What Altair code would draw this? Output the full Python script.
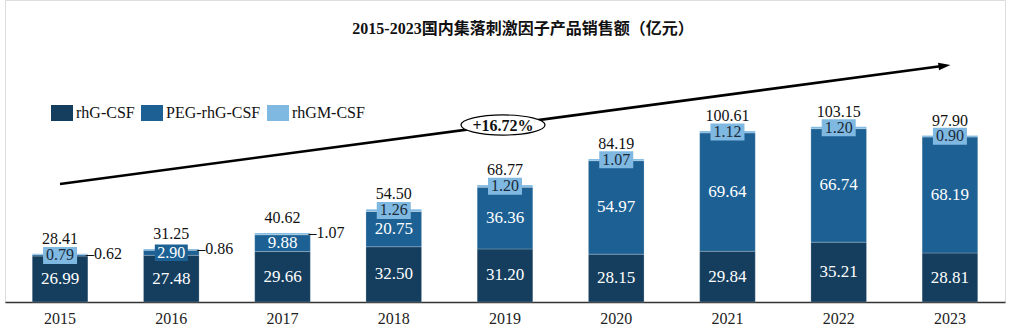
import altair as alt
import pandas as pd

years = ["2015", "2016", "2017", "2018", "2019", "2020", "2021", "2022", "2023"]
rhg = [26.99, 27.48, 29.66, 32.50, 31.20, 28.15, 29.84, 35.21, 28.81]
peg = [0.79, 2.90, 9.88, 20.75, 36.36, 54.97, 69.64, 66.74, 68.19]
rhgm = [0.62, 0.86, 1.07, 1.26, 1.20, 1.07, 1.12, 1.20, 0.90]
totals = [28.41, 31.25, 40.62, 54.50, 68.77, 84.19, 100.61, 103.15, 97.90]
series = ["rhG-CSF", "PEG-rhG-CSF", "rhGM-CSF"]
colors = ["#153e5e", "#1d6194", "#7fb8e0"]
title_text = "2015-2023国内集落刺激因子产品销售额（亿元）"
cagr_text = "+16.72%"

SERIF = "Liberation Serif"
TITLE_FONT = "Liberation Serif, Noto Sans CJK SC"

rows = []
for i, y in enumerate(years):
    start = 0.0
    for s, vals in zip(series, [rhg, peg, rhgm]):
        v = vals[i]
        rows.append({"year": y, "series": s, "value": v, "start": start,
                     "end": start + v, "mid": start + v / 2,
                     "label": f"{v:.2f}", "idx": i})
        start += v
df = pd.DataFrame(rows)
tot = pd.DataFrame({"year": years, "total": totals,
                    "label": [f"{t:.2f}" for t in totals]})

inside = df[(df.series == "rhG-CSF") | ((df.series == "PEG-rhG-CSF") & (df.idx >= 2))]
box_light = df[((df.series == "PEG-rhG-CSF") & (df.idx == 0)) |
               ((df.series == "rhGM-CSF") & (df.idx >= 3))]
box_mid = df[(df.series == "PEG-rhG-CSF") & (df.idx == 1)]
outside = df[(df.series == "rhGM-CSF") & (df.idx <= 2)].copy()
outside["dlabel"] = "–" + outside["label"]

xscale = alt.Scale(domain=years, paddingInner=0.5, paddingOuter=0.245)
yscale = alt.Scale(domain=[0, 302 / 1.7], nice=False, zero=True)
X = alt.X("year:N", scale=xscale, sort=years,
          axis=alt.Axis(title=None, labelAngle=0, ticks=False, domainColor="#333333",
                        domainWidth=1.5, labelFont=SERIF, labelFontSize=16,
                        labelColor="#222222", labelPadding=8))

rect_path = "M-1,-0.727L1,-0.727L1,0.727L-1,0.727Z"
box_path = "M-1,-0.5L1,-0.5L1,0.5L-1,0.5Z"
ellipse_path = "M-1,0A1,0.24 0 1,0 1,0A1,0.24 0 1,0 -1,0Z"

bars = alt.Chart(df).mark_bar(stroke="white", strokeWidth=0.6, strokeOpacity=0.35).encode(
    x=X,
    y=alt.Y("start:Q", scale=yscale, axis=None),
    y2="end:Q",
    color=alt.Color("series:N", scale=alt.Scale(domain=series, range=colors),
                    legend=alt.Legend(title=None, orient="none", legendX=46, legendY=102,
                                      direction="horizontal", symbolType=rect_path,
                                      symbolSize=484, symbolStrokeWidth=0,
                                      symbolOpacity=1,
                                      labelFont=SERIF, labelFontSize=16,
                                      labelColor="#111111", labelOffset=3,
                                      columnPadding=6)),
    order=alt.Order("idx:Q"),
)

inside_txt = alt.Chart(inside).mark_text(font=SERIF, fontSize=17, color="white",
                                         baseline="middle").encode(
    x=alt.X("year:N", scale=xscale, sort=years), y=alt.Y("mid:Q", scale=yscale), text="label:N")

boxes_l = alt.Chart(box_light).mark_point(shape=box_path, size=34 * 34, filled=True,
                                          opacity=1, color="#7fb8e0").encode(
    x=alt.X("year:N", scale=xscale, sort=years), y=alt.Y("mid:Q", scale=yscale))
boxes_l_txt = alt.Chart(box_light).mark_text(font=SERIF, fontSize=16, color="#1a2a3a",
                                             baseline="middle").encode(
    x=alt.X("year:N", scale=xscale, sort=years), y=alt.Y("mid:Q", scale=yscale), text="label:N")
boxes_m = alt.Chart(box_mid).mark_point(shape=box_path, size=33 * 33, filled=True,
                                        opacity=1, color="#1d6194").encode(
    x=alt.X("year:N", scale=xscale, sort=years), y=alt.Y("mid:Q", scale=yscale))
boxes_m_txt = alt.Chart(box_mid).mark_text(font=SERIF, fontSize=16, color="white",
                                           baseline="middle").encode(
    x=alt.X("year:N", scale=xscale, sort=years), y=alt.Y("mid:Q", scale=yscale), text="label:N")

out_txt = alt.Chart(outside).mark_text(font=SERIF, fontSize=16, color="#111111",
                                       baseline="middle", align="left", xOffset=26).encode(
    x=alt.X("year:N", scale=xscale, sort=years), y=alt.Y("end:Q", scale=yscale), text="dlabel:N")

tot_txt = alt.Chart(tot).mark_text(font=SERIF, fontSize=16, color="#111111",
                                   baseline="alphabetic", dy=-10).encode(
    x=alt.X("year:N", scale=xscale, sort=years), y=alt.Y("total:Q", scale=yscale), text="label:N")

one = pd.DataFrame({"t": [title_text], "c": [cagr_text]})
title = alt.Chart(one).mark_text(font=TITLE_FONT, fontSize=16, fontWeight="bold",
                                 color="#111111", baseline="middle").encode(
    x=alt.value(518), y=alt.value(29), text="t:N")

arrow = alt.Chart(one).mark_rule(color="black", strokeWidth=2.6).encode(
    x=alt.value(55), x2=alt.value(939), y=alt.value(184), y2=alt.value(65.8))
head = alt.Chart(one).mark_point(shape="M1,0L-1,-0.65L-1,0.65Z", size=144, filled=True,
                                 opacity=1, color="black", angle=352.4).encode(
    x=alt.value(939.5), y=alt.value(65.7))
ell = alt.Chart(one).mark_point(shape=ellipse_path, size=84 * 84, filled=True, opacity=1,
                                fill="white", stroke="black", strokeWidth=1.2).encode(
    x=alt.value(498), y=alt.value(125))
cagr = alt.Chart(one).mark_text(font=SERIF, fontSize=16, fontWeight="bold",
                                color="#111111", baseline="middle").encode(
    x=alt.value(498), y=alt.value(125.5), text="c:N")

chart = alt.layer(bars, inside_txt, boxes_l, boxes_l_txt, boxes_m, boxes_m_txt,
                  out_txt, tot_txt, title, arrow, head, ell, cagr).properties(
    width=1000, height=302,
    autosize=alt.AutoSizeParams(type="none"),
    padding={"left": 5, "top": 0, "right": 20, "bottom": 33},
).configure_view(stroke=None).configure(background="white")

chart.save("out.html", embed_options={"renderer": "svg", "actions": False})
